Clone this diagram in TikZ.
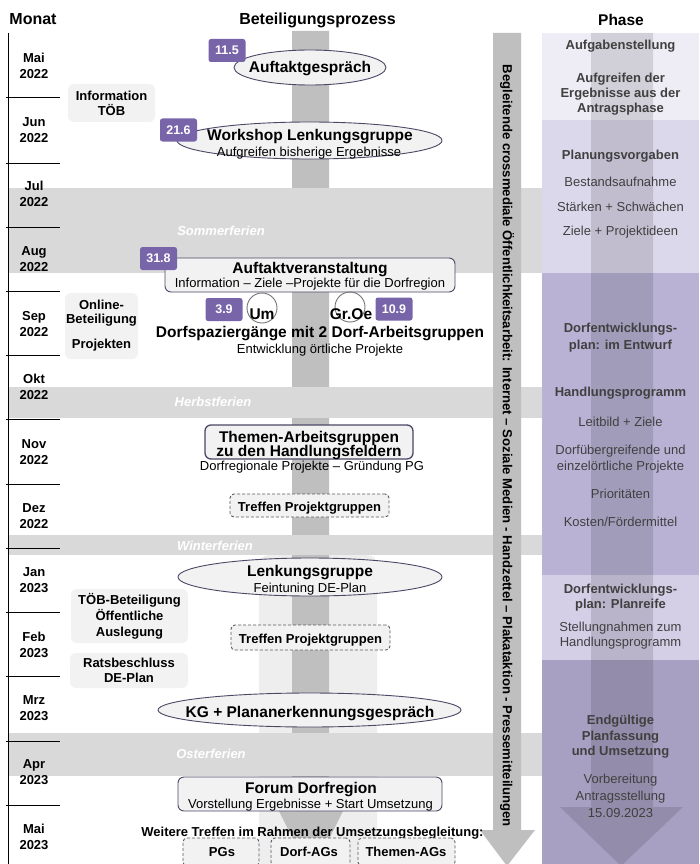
\documentclass[tikz,border=0pt]{standalone}
\usepackage{fontspec}
\usepackage{graphicx}
\setmainfont{Liberation Sans}
\usetikzlibrary{shapes.geometric}
\definecolor{badgec}{HTML}{7864A8}
\definecolor{edgec}{HTML}{4D4766}
\definecolor{dashc}{HTML}{5A5A66}
\definecolor{nodefill}{HTML}{F2F2F2}
\definecolor{bandc}{HTML}{D9D9D9}
\definecolor{barc}{HTML}{BFBFBF}
\definecolor{lightbar}{HTML}{EEEEEE}
\definecolor{phtext}{HTML}{404040}
\definecolor{ph1}{HTML}{EEECF5}
\definecolor{ph2}{HTML}{DCD8EC}
\definecolor{ph3}{HTML}{B9B2D5}
\definecolor{ph4}{HTML}{D4CEE6}
\definecolor{ph5}{HTML}{A8A0C2}
\begin{document}
\begin{tikzpicture}[x=1pt,y=-1pt,
  badge/.style={fill=badgec, rounded corners=2.5pt, text=white, font=\bfseries\fontsize{12.5}{14}\selectfont, minimum width=37pt, minimum height=23pt, inner sep=0pt},
  evell/.style={ellipse, draw=edgec, fill=nodefill, line width=0.9pt, inner sep=0pt},
  evbox/.style={rectangle, rounded corners=6pt, draw=edgec, fill=nodefill, line width=0.9pt, inner sep=0pt},
  dbox/.style={rectangle, rounded corners=4pt, draw=dashc, dash pattern=on 3pt off 2pt, fill=nodefill, line width=0.9pt, inner sep=0pt},
  sbox/.style={rectangle, rounded corners=6pt, fill=nodefill, inner sep=0pt, align=center},
  ttl/.style={anchor=base, inner sep=0pt, font=\bfseries\fontsize{15.5}{17}\selectfont},
  sub/.style={anchor=base, inner sep=0pt, font=\fontsize{13}{15}\selectfont},
  smb/.style={anchor=base, inner sep=0pt, font=\bfseries\fontsize{13}{15}\selectfont},
  month/.style={align=center, inner sep=0pt, font=\bfseries\fontsize{13}{16}\selectfont},
  hol/.style={text=white, inner sep=0pt, font=\bfseries\itshape\fontsize{13}{15}\selectfont},
  ph/.style={anchor=base, inner sep=0pt, text=phtext, font=\fontsize{13}{15}\selectfont},
  phb/.style={anchor=base, inner sep=0pt, text=phtext, font=\bfseries\fontsize{13}{15}\selectfont},
  head/.style={anchor=base, inner sep=0pt, font=\bfseries\fontsize{16}{18}\selectfont},
  circ/.style={circle, draw=gray!90!black, line width=0.9pt, minimum size=30pt, inner sep=0pt}
]
\useasboundingbox (0,0) rectangle (699,864);
\fill[white] (0,0) rectangle (699,864);

% light wide shaft and central arrow
\fill[lightbar, rounded corners=10pt] (259,555) -- (377,555) -- (377,880) -- (259,880) -- cycle;
\fill[barc] (292,31) -- (329,31) -- (329,785) -- (356,785) -- (311,875) -- (266,785) -- (292,785) -- cycle;

% holiday bands
\fill[bandc] (8,188) rectangle (542,273);
\fill[bandc] (8,387) rectangle (542,418);
\fill[bandc] (8,535) rectangle (542,555);
\fill[bandc] (8,733) rectangle (542,776);
\node[hol] (hsommer) at (221,231) {Sommerferien};
\node[hol] (hherbst) at (213,402) {Herbstferien};
\node[hol] (hwinter) at (215,546) {Winterferien};
\node[hol] (hoster) at (211,754) {Osterferien};

% right media arrow
\fill[barc] (493,33) -- (521,33) -- (521,830) -- (535,830) -- (507,866) -- (480,830) -- (493,830) -- cycle;
\node[rotate=-90, inner sep=0pt] (media) at (507,446) {\resizebox{762pt}{!}{\bfseries\fontsize{12}{14}\selectfont Begleitende crossmediale Öffentlichkeitsarbeit: Internet – Soziale Medien - Handzettel – Plakataktion - Pressemitteilungen}};

% phase column
\fill[ph1] (542,33) rectangle (699,120);
\fill[ph2] (542,120) rectangle (699,273);
\fill[ph3] (542,273) rectangle (699,575);
\fill[ph4] (542,575) rectangle (699,660);
\fill[ph5] (542,660) rectangle (699,864);
\fill[black, opacity=0.12] (591,33) -- (653,33) -- (653,807) -- (683,807) -- (621,866) -- (560,807) -- (591,807) -- cycle;

\node[phb] (p1) at (620.5,49.5) {Aufgabenstellung};
\node[phb] (p2) at (620.5,82.5) {Aufgreifen der};
\node[phb] (p3) at (620.5,97.5) {Ergebnisse aus der};
\node[phb] (p4) at (620.5,112.5) {Antragsphase};
\node[phb] (p5) at (620.5,159.5) {Planungsvorgaben};
\node[ph] (p6) at (620.5,186.5) {Bestandsaufnahme};
\node[ph] (p7) at (620.5,211.5) {Stärken + Schwächen};
\node[ph] (p8) at (620.5,235.5) {Ziele + Projektideen};
\node[phb] (p9) at (620.5,332.5) {Dorfentwicklungs-};
\node[phb] (p10) at (620.5,349.5) {plan: im Entwurf};
\node[phb] (p11) at (620.5,396.5) {Handlungsprogramm};
\node[ph] (p12) at (620.5,426.5) {Leitbild + Ziele};
\node[ph] (p13) at (620.5,454.5) {Dorfübergreifende und};
\node[ph] (p14) at (620.5,470.5) {einzelörtliche Projekte};
\node[ph] (p15) at (620.5,498.5) {Prioritäten};
\node[ph] (p16) at (620.5,526.5) {Kosten/Fördermittel};
\node[phb] (p17) at (620.5,593.5) {Dorfentwicklungs-};
\node[phb] (p18) at (620.5,608.5) {plan: Planreife};
\node[ph] (p19) at (620.5,631.5) {Stellungnahmen zum};
\node[ph] (p20) at (620.5,646.5) {Handlungsprogramm};
\node[phb] (p21) at (620.5,724.5) {Endgültige};
\node[phb] (p22) at (620.5,740.5) {Planfassung};
\node[phb] (p23) at (620.5,755.5) {und Umsetzung};
\node[ph] (p24) at (620.5,783.5) {Vorbereitung};
\node[ph] (p25) at (620.5,800.5) {Antragsstellung};
\node[ph] (p26) at (620.5,817.5) {15.09.2023};

% headers
\node[head] (hmonat) at (33,25) {Monat};
\node[head] (hproz) at (317.5,25) {Beteiligungsprozess};
\node[head, font=\bfseries\fontsize{15.5}{18}\selectfont] (hphase) at (621,26) {Phase};

% month axis
\draw[line width=1pt] (8,33) -- (8,864);
\foreach \yy in {98,163,227,291,355,419,484,548,612,676,741,805}
  \draw[line width=1pt] (6,\yy) -- (60,\yy);
\node[month] (m1) at (34,66) {Mai\\2022};
\node[month] (m2) at (34,130.5) {Jun\\2022};
\node[month] (m3) at (34,194) {Jul\\2022};
\node[month] (m4) at (34,259.5) {Aug\\2022};
\node[month] (m5) at (34,324) {Sep\\2022};
\node[month] (m6) at (34,387) {Okt\\2022};
\node[month] (m7) at (34,452) {Nov\\2022};
\node[month] (m8) at (34,516) {Dez\\2022};
\node[month] (m9) at (34,580.5) {Jan\\2023};
\node[month] (m10) at (34,645) {Feb\\2023};
\node[month] (m11) at (34,708.5) {Mrz\\2023};
\node[month] (m12) at (34,772) {Apr\\2023};
\node[month] (m13) at (34,836.5) {Mai\\2023};

% side boxes
\node[sbox, minimum width=87pt, minimum height=38pt, font=\bfseries\fontsize{13}{15}\selectfont] (info) at (111.5,103) {Information\\TÖB};
\node[sbox, minimum width=73pt, minimum height=66pt, font=\bfseries\fontsize{13}{14}\selectfont] (online) at (101.5,326) {Online-\\Beteiligung\\[11pt]Projekten};
\node[sbox, minimum width=117pt, minimum height=54pt, font=\bfseries\fontsize{13}{16}\selectfont] (toeb) at (129.5,616) {TÖB-Beteiligung\\Öffentliche\\Auslegung};
\node[sbox, minimum width=118pt, minimum height=35pt, font=\bfseries\fontsize{13}{15}\selectfont] (rats) at (129,670.5) {Ratsbeschluss\\DE-Plan};

% events
\node[evell, minimum width=152pt, minimum height=35pt] (auftakt) at (310,67.5) {};
\node[ttl] (tauftakt) at (310,73) {Auftaktgespräch};
\node[badge] (b1) at (227,50.5) {11.5};

\node[evell, minimum width=265pt, minimum height=37pt] (workshop) at (309.5,140.5) {};
\node[ttl] (tworkshop) at (310,140) {Workshop Lenkungsgruppe};
\node[sub] (sworkshop) at (309,156) {Aufgreifen bisherige Ergebnisse};
\node[badge] (b2) at (178.5,130) {21.6};

\node[evbox, minimum width=290pt, minimum height=34pt] (veranst) at (310,275) {};
\node[ttl] (tveranst) at (310,273) {Auftaktveranstaltung};
\node[sub] (sveranst) at (310,287) {Information – Ziele –Projekte für die Dorfregion};
\node[badge] (b3) at (158.5,258.5) {31.8};

\node[badge] (b4) at (224,309.5) {3.9};
\node[circ] (cum) at (262,308) {};
\node[ttl] (tum) at (262,319) {Um};
\node[circ] (cgr) at (350,307) {};
\node[ttl] (tgr) at (351,319) {Gr.Oe};
\node[badge] (b5) at (394,309) {10.9};
\node[ttl] (tspazier) at (320,337) {Dorfspaziergänge mit 2 Dorf-Arbeitsgruppen};
\node[sub] (sspazier) at (320,353) {Entwicklung örtliche Projekte};

\node[evbox, line width=1.3pt, minimum width=208pt, minimum height=34pt] (themen) at (309,442) {};
\node[ttl] (tthemen1) at (309,442) {Themen-Arbeitsgruppen};
\node[ttl] (tthemen2) at (309,456) {zu den Handlungsfeldern};
\node[sub] (sthemen) at (312,470) {Dorfregionale Projekte – Gründung PG};

\node[dbox, minimum width=159pt, minimum height=23pt] (treffen1) at (309.5,505.5) {};
\node[smb] (ttreffen1) at (309.5,511) {Treffen Projektgruppen};

\node[evell, minimum width=264pt, minimum height=38pt] (lenkung) at (310,577) {};
\node[ttl] (tlenkung) at (310,576) {Lenkungsgruppe};
\node[sub] (slenkung) at (310,592) {Feintuning DE-Plan};

\node[dbox, minimum width=159pt, minimum height=25pt] (treffen2) at (310.5,637.5) {};
\node[smb] (ttreffen2) at (310.5,643) {Treffen Projektgruppen};

\node[evell, minimum width=303pt, minimum height=34pt] (kg) at (309.5,710) {};
\node[ttl] (tkg) at (310,717) {KG + Plananerkennungsgespräch};

\node[evbox, minimum width=264pt, minimum height=34pt] (forum) at (310,794) {};
\node[ttl] (tforum) at (311,793) {Forum Dorfregion};
\node[sub] (sforum) at (310.5,808) {Vorstellung Ergebnisse + Start Umsetzung};

\node[smb] (weitere) at (312.5,836) {Weitere Treffen im Rahmen der Umsetzungsbegleitung:};
\node[dbox, minimum width=76pt, minimum height=28pt] (pgs) at (221,852) {};
\node[smb] (tpgs) at (222,856) {PGs};
\node[dbox, minimum width=79pt, minimum height=28pt] (dorfags) at (310.5,852) {};
\node[smb] (tdorfags) at (309,856) {Dorf-AGs};
\node[dbox, minimum width=97pt, minimum height=28pt] (themenags) at (406.5,852) {};
\node[smb] (tthemenags) at (406,856) {Themen-AGs};
\end{tikzpicture}
\end{document}
